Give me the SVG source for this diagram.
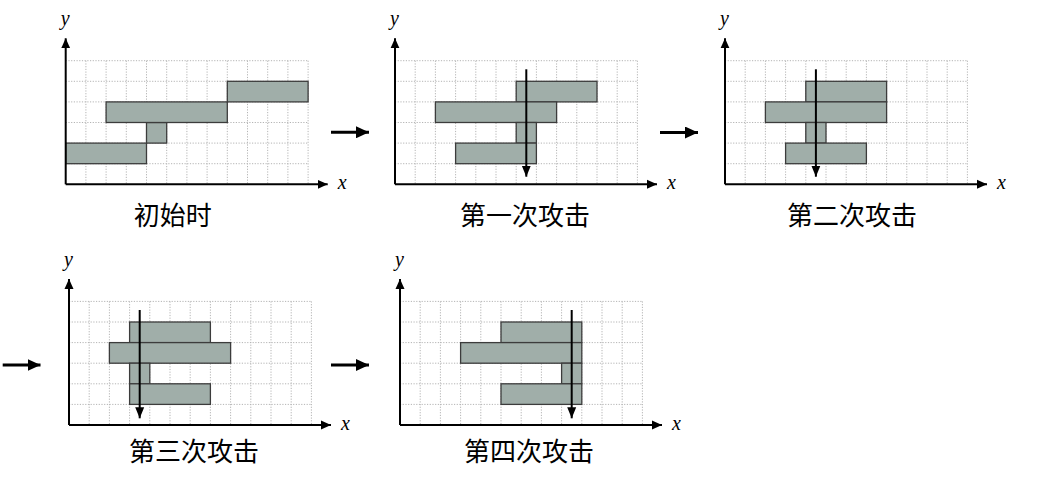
<svg xmlns="http://www.w3.org/2000/svg" xmlns:xlink="http://www.w3.org/1999/xlink" width="1042" height="478" viewBox="0 0 1042 478">
<style>
.grid line{stroke:#b4b4b4;stroke-width:1;stroke-dasharray:1.2 1.5}
.blk{fill:#a0aea9;stroke:#3c3c3c;stroke-width:1.3}
.axis{stroke:#000;stroke-width:2;fill:none}
.atk{stroke:#000;stroke-width:2;fill:none}
.step{stroke:#000;stroke-width:3;fill:none}
.var{font-family:"Liberation Serif",serif;font-style:italic;font-size:20px;fill:#000}
.cap{font-family:"Noto Sans CJK SC","Noto Sans",sans-serif;font-size:26px;fill:#000;text-anchor:middle}
</style>
<defs>
<marker id="ah" markerUnits="userSpaceOnUse" markerWidth="12" markerHeight="10" refX="11" refY="5" orient="auto"><path d="M0,0.5 L11,5 L0,9.5 z" fill="#000"/></marker>
<marker id="ahs" markerUnits="userSpaceOnUse" markerWidth="12" markerHeight="10" refX="10" refY="5" orient="auto"><path d="M0,0.5 L10,5 L0,9.5 z" fill="#000"/></marker>
<marker id="ahb" markerUnits="userSpaceOnUse" markerWidth="14" markerHeight="12" refX="13" refY="6" orient="auto"><path d="M0,0 L13,6 L0,12 z" fill="#000"/></marker>
<g id="gridbase" class="grid">
<line x1="20.2" y1="-123.6" x2="20.2" y2="0"/><line x1="40.4" y1="-123.6" x2="40.4" y2="0"/><line x1="60.6" y1="-123.6" x2="60.6" y2="0"/><line x1="80.8" y1="-123.6" x2="80.8" y2="0"/><line x1="101" y1="-123.6" x2="101" y2="0"/><line x1="121.2" y1="-123.6" x2="121.2" y2="0"/><line x1="141.4" y1="-123.6" x2="141.4" y2="0"/><line x1="161.6" y1="-123.6" x2="161.6" y2="0"/><line x1="181.8" y1="-123.6" x2="181.8" y2="0"/><line x1="202" y1="-123.6" x2="202" y2="0"/><line x1="222.2" y1="-123.6" x2="222.2" y2="0"/><line x1="242.4" y1="-123.6" x2="242.4" y2="0"/>
<line x1="0" y1="-20.6" x2="242.4" y2="-20.6"/><line x1="0" y1="-41.2" x2="242.4" y2="-41.2"/><line x1="0" y1="-61.8" x2="242.4" y2="-61.8"/><line x1="0" y1="-82.4" x2="242.4" y2="-82.4"/><line x1="0" y1="-103" x2="242.4" y2="-103"/><line x1="0" y1="-123.6" x2="242.4" y2="-123.6"/>
</g>
<g id="axes">
<line class="axis" x1="0" y1="0" x2="0" y2="-146" marker-end="url(#ahs)"/>
<line class="axis" x1="0" y1="0" x2="262" y2="0" marker-end="url(#ahs)"/>
<text class="var" x="-5" y="-159">y</text>
<text class="var" x="272" y="5">x</text>
</g>
</defs>

<g id="panel1" transform="translate(65.7,184.3)">
<use xlink:href="#gridbase"/>
<rect class="blk" x="0" y="-41.2" width="80.8" height="20.6"/>
<rect class="blk" x="80.8" y="-61.8" width="20.2" height="20.6"/>
<rect class="blk" x="40.4" y="-82.4" width="121.2" height="20.6"/>
<rect class="blk" x="161.6" y="-103" width="80.8" height="20.6"/>
<use xlink:href="#axes"/>
<text class="cap" x="107" y="41">初始时</text>
</g>

<g id="panel2" transform="translate(395,184.3)">
<use xlink:href="#gridbase"/>
<rect class="blk" x="121.2" y="-103" width="80.8" height="20.6"/>
<rect class="blk" x="40.4" y="-82.4" width="121.2" height="20.6"/>
<rect class="blk" x="121.2" y="-61.8" width="20.2" height="20.6"/>
<rect class="blk" x="60.6" y="-41.2" width="80.8" height="20.6"/>
<line class="atk" x1="131.3" y1="-115" x2="131.3" y2="-7.6" marker-end="url(#ah)"/>
<use xlink:href="#axes"/>
<text class="cap" x="130" y="41">第一次攻击</text>
</g>

<g id="panel3" transform="translate(725,184.3)">
<use xlink:href="#gridbase"/>
<rect class="blk" x="80.8" y="-103" width="80.8" height="20.6"/>
<rect class="blk" x="40.4" y="-82.4" width="121.2" height="20.6"/>
<rect class="blk" x="80.8" y="-61.8" width="20.2" height="20.6"/>
<rect class="blk" x="60.6" y="-41.2" width="80.8" height="20.6"/>
<line class="atk" x1="90.9" y1="-115" x2="90.9" y2="-7.6" marker-end="url(#ah)"/>
<use xlink:href="#axes"/>
<text class="cap" x="127" y="41">第二次攻击</text>
</g>

<g id="panel4" transform="translate(69,425)">
<use xlink:href="#gridbase"/>
<rect class="blk" x="60.6" y="-103" width="80.8" height="20.6"/>
<rect class="blk" x="40.4" y="-82.4" width="121.2" height="20.6"/>
<rect class="blk" x="60.6" y="-61.8" width="20.2" height="20.6"/>
<rect class="blk" x="60.6" y="-41.2" width="80.8" height="20.6"/>
<line class="atk" x1="70.7" y1="-115" x2="70.7" y2="-6.7" marker-end="url(#ah)"/>
<use xlink:href="#axes"/>
<text class="cap" x="125" y="35.5">第三次攻击</text>
</g>

<g id="panel5" transform="translate(400,425)">
<use xlink:href="#gridbase"/>
<rect class="blk" x="101" y="-103" width="80.8" height="20.6"/>
<rect class="blk" x="60.6" y="-82.4" width="121.2" height="20.6"/>
<rect class="blk" x="161.6" y="-61.8" width="20.2" height="20.6"/>
<rect class="blk" x="101" y="-41.2" width="80.8" height="20.6"/>
<line class="atk" x1="171.7" y1="-115" x2="171.7" y2="-6.7" marker-end="url(#ah)"/>
<use xlink:href="#axes"/>
<text class="cap" x="129" y="35.5">第四次攻击</text>
</g>

<g id="connectors">
<line class="step" x1="331" y1="132.3" x2="369" y2="132.3" marker-end="url(#ahb)"/>
<line class="step" x1="660" y1="132.5" x2="698" y2="132.5" marker-end="url(#ahb)"/>
<line class="step" x1="2.7" y1="365" x2="40.5" y2="365" marker-end="url(#ahb)"/>
<line class="step" x1="331" y1="365" x2="369" y2="365" marker-end="url(#ahb)"/>
</g>
</svg>
